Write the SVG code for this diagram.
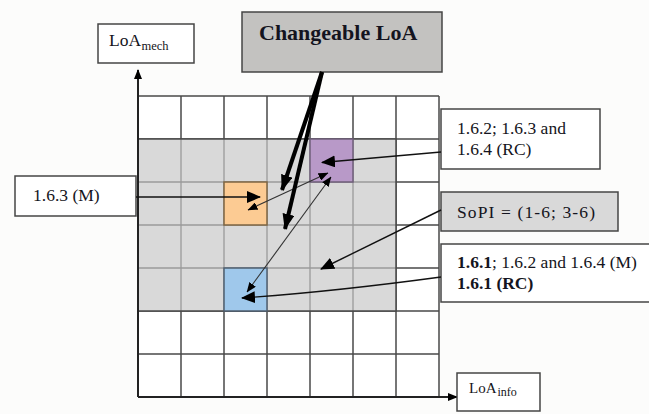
<svg xmlns="http://www.w3.org/2000/svg" width="649" height="414" viewBox="0 0 649 414">
<style>
text{font-family:'Liberation Serif','Times New Roman','DejaVu Serif',serif;fill:#141420}
.t{font-size:17.5px}
.ti{font-size:15px}
.sub{font-size:12.5px}
.subi{font-size:12px}
.big{font-size:22px;font-weight:bold}
.b{font-weight:bold}
.box{fill:#fff;stroke:#454545;stroke-width:1.5}
.gd{stroke:#4a4a4a;stroke-width:1.5;fill:none}
.gl{stroke:#9a9a9a;stroke-width:1.3;fill:none}
.med{stroke:#111;stroke-width:1.4;fill:none}
.thin{stroke:#333;stroke-width:1.1;fill:none}
.thick{stroke:#000;stroke-width:4;fill:none}
.axis{stroke:#222;stroke-width:2;fill:none}
</style>
<defs>
<marker id="am" markerUnits="userSpaceOnUse" markerWidth="14" markerHeight="12" refX="13" refY="6" orient="auto-start-reverse"><path d="M0,0 L14,6 L0,12 Z" fill="#000"/></marker>
<marker id="at" markerUnits="userSpaceOnUse" markerWidth="10" markerHeight="8" refX="9.5" refY="4" orient="auto-start-reverse"><path d="M0,0 L10,4 L0,8 Z" fill="#000"/></marker>
<marker id="ak" markerUnits="userSpaceOnUse" markerWidth="16" markerHeight="12" refX="15" refY="6" orient="auto"><path d="M0,0 L16,6 L0,12 Z" fill="#000"/></marker>
<marker id="aa" markerUnits="userSpaceOnUse" markerWidth="10" markerHeight="8" refX="9" refY="4" orient="auto"><path d="M0,0 L10,4 L0,8 Z" fill="#000"/></marker>
</defs>
<rect width="649" height="414" fill="#fcfcfb"/>
<g id="grid">
<rect x="138" y="96" width="301" height="301" fill="#fff"/>
<path class="gd" d="M181,96V397M224,96V397M267,96V397M310,96V397M353,96V397M396,96V397M439,96V397M138,96H439M138,139H439M138,182H439M138,225H439M138,268H439M138,311H439M138,354H439M138,397H439"/>
</g>
<g id="sopi-region">
<rect x="138" y="139" width="258" height="172" fill="#d9d9d9"/>
<path class="gl" d="M181,139V311M224,139V311M267,139V311M310,139V311M353,139V311M138,182H396M138,225H396M138,268H396"/>
<path class="gd" d="M138,139H396V311H138"/>
</g>
<g id="cell-orange"><rect x="224" y="182" width="43" height="43" fill="#fccb93" stroke="#7d6543" stroke-width="1.5"/></g>
<g id="cell-blue"><rect x="224" y="268" width="43" height="43" fill="#9fc8eb" stroke="#4f5f70" stroke-width="1.5"/></g>
<g id="cell-purple"><rect x="310" y="139" width="43" height="43" fill="#b899c8" stroke="#6f5f7a" stroke-width="1.5"/></g>
<g id="axes">
<path class="axis" d="M138,397V70" marker-end="url(#aa)"/>
<path class="axis" d="M138,397H457" marker-end="url(#aa)"/>
</g>
<g id="label-loamech">
<rect class="box" x="98" y="24" width="96" height="39"/>
<text class="t" x="109" y="46">LoA</text><text class="sub" x="141.5" y="49.5">mech</text>
</g>
<g id="label-loainfo">
<rect class="box" x="457" y="373" width="83" height="38"/>
<text class="ti" x="469" y="393">LoA</text><text class="subi" x="497.5" y="396">info</text>
</g>
<g id="label-changeable">
<rect x="242" y="12" width="200" height="60" fill="#c3c2c0" stroke="#454545" stroke-width="1.5"/>
<text class="big" x="259" y="40">Changeable LoA</text>
</g>
<g id="label-rc">
<rect class="box" x="441" y="109" width="159" height="60"/>
<text class="t" x="457" y="134">1.6.2; 1.6.3 and</text>
<text class="t" x="457" y="155">1.6.4 (RC)</text>
</g>
<g id="label-sopi">
<rect x="441" y="192" width="177" height="39" fill="#d9d9d9" stroke="#454545" stroke-width="1.5"/>
<text class="t" x="457" y="218" textLength="138">SoPI = (1-6; 3-6)</text>
</g>
<g id="label-m">
<rect class="box" x="441" y="244" width="215" height="58"/>
<text class="t" x="457" y="268"><tspan class="b">1.6.1</tspan>; 1.6.2 and 1.6.4 (M)</text>
<text class="t b" x="457" y="289">1.6.1 (RC)</text>
</g>
<g id="label-163m">
<rect class="box" x="15" y="176" width="121" height="40"/>
<text class="t" x="33" y="201">1.6.3 (M)</text>
</g>
<g id="connectors">
<path class="med" d="M136,197H260" marker-end="url(#am)"/>
<path class="med" d="M441,152L322,162.5" marker-end="url(#am)"/>
<path class="med" d="M441,210L321,269" marker-end="url(#am)"/>
<path class="med" d="M441,277Q330,292 242,298" marker-end="url(#am)"/>
<path class="thin" d="M248,210L328,173" marker-start="url(#at)" marker-end="url(#at)"/>
<path class="thin" d="M247,292L331,177" marker-start="url(#at)" marker-end="url(#at)"/>
<path class="thick" d="M322,72L282,190" marker-end="url(#ak)"/>
<path class="thick" d="M322,72L285,229" marker-end="url(#ak)"/>
</g>
</svg>
